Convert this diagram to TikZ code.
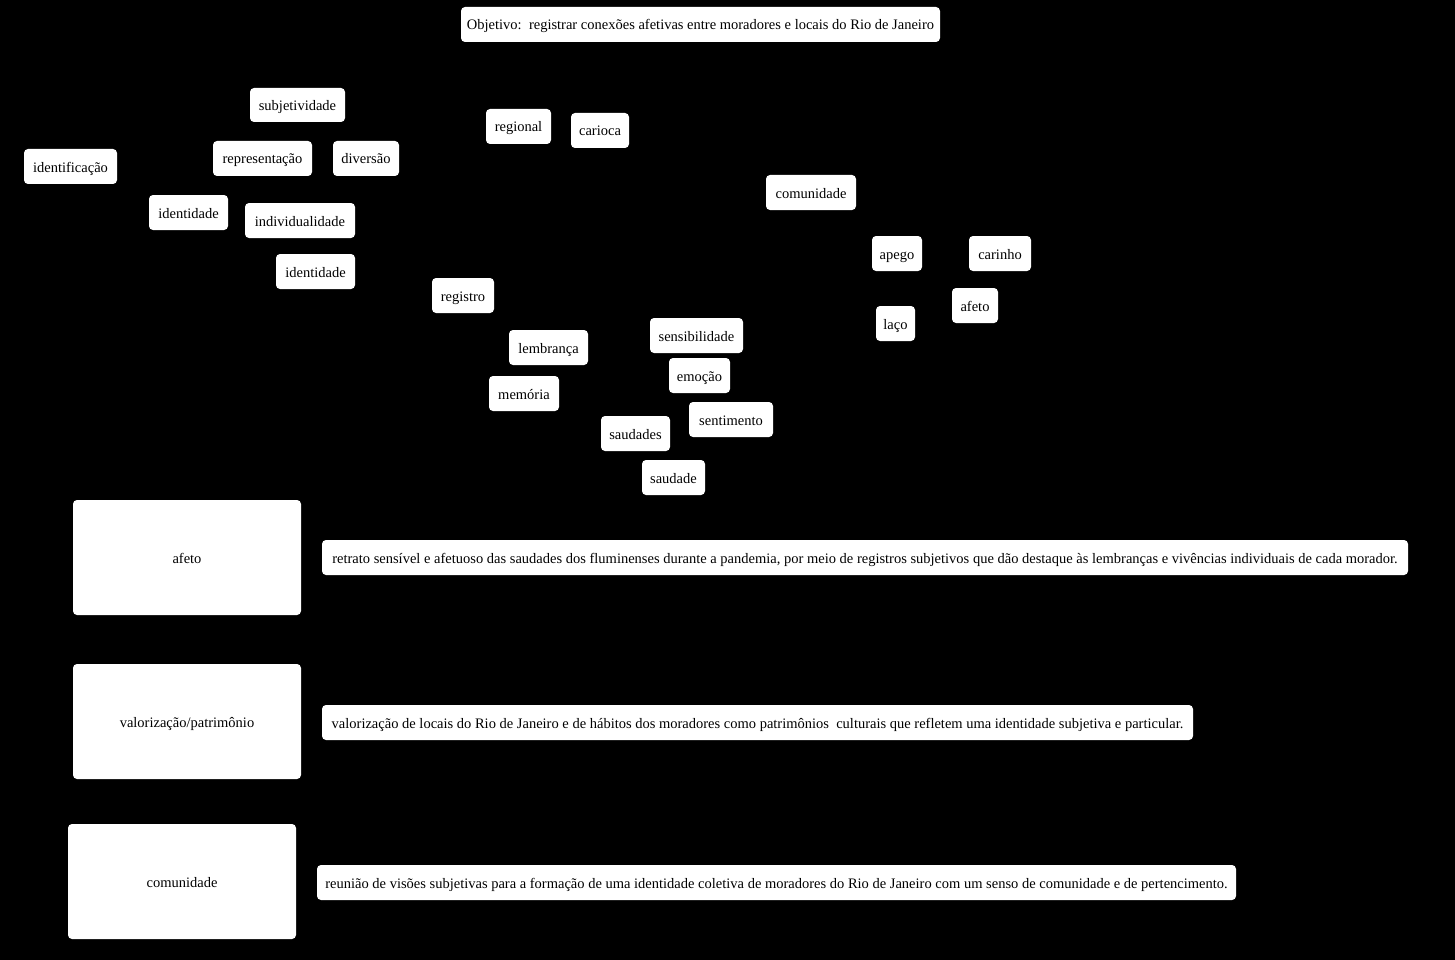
\documentclass[tikz,border=0pt]{standalone}
\usepackage{fontspec}
\setmainfont{Liberation Serif}
\begin{document}
\begin{tikzpicture}[x=1pt, y=-1pt,
  tag/.style={fill=white, rounded corners=4pt, inner sep=0pt, minimum height=35pt, text height=14pt, text depth=3pt, font=\fontsize{14.5}{16}\selectfont},
  big/.style={tag, minimum width=228pt, minimum height=115pt}]
\fill[black] (0,0) rectangle (1455,960);
\useasboundingbox (0,0) rectangle (1455,960);
\node[tag, minimum width=479pt](O) at (700.5,24.5){Objetivo:\ \ registrar conexões afetivas entre moradores e locais do Rio de Janeiro};
\node[tag, minimum width=95pt, minimum height=34pt](S) at (297.5,105){subjetividade};
\node[tag, minimum width=99pt](R) at (262.5,158.5){representação};
\node[tag, minimum width=66pt](D) at (366,158.5){diversão};
\node[tag, minimum width=93pt](I) at (70.5,166.5){identificação};
\node[tag, minimum width=79pt](I1) at (188.5,212.5){identidade};
\node[tag, minimum width=110pt](I2) at (300,220.5){individualidade};
\node[tag, minimum width=79pt](I3) at (315.5,271.5){identidade};
\node[tag, minimum width=65pt](G) at (518.5,126.5){regional};
\node[tag, minimum width=58pt](C) at (600,130.5){carioca};
\node[tag, minimum width=90pt](M) at (811,192.5){comunidade};
\node[tag, minimum width=50pt](A1) at (897,253.5){apego};
\node[tag, minimum width=62pt](A2) at (1000,253.5){carinho};
\node[tag, minimum width=46pt](A3) at (975,305.5){afeto};
\node[tag, minimum width=39pt](A4) at (895.5,323.5){laço};
\node[tag, minimum width=62pt](E) at (463,295.5){registro};
\node[tag, minimum width=79pt](E1) at (548.5,347.5){lembrança};
\node[tag, minimum width=70pt](E2) at (524,393.5){memória};
\node[tag, minimum width=93pt](F) at (696.5,335.5){sensibilidade};
\node[tag, minimum width=61pt](F1) at (699.5,375.5){emoção};
\node[tag, minimum width=84pt](F2) at (731,419.5){sentimento};
\node[tag, minimum width=69pt](F3) at (635.5,433.5){saudades};
\node[tag, minimum width=63pt](F4) at (673.5,477.5){saudade};
\node[big](B1) at (187,557.5){afeto};
\node[tag, minimum width=1086pt](T1) at (865,557.5){retrato sensível e afetuoso das saudades dos fluminenses durante a pandemia, por meio de registros subjetivos que dão destaque às lembranças e vivências individuais de cada morador.};
\node[big](B2) at (187,721.5){valorização/patrimônio};
\node[tag, minimum width=871pt](T2) at (757.5,722.5){valorização de locais do Rio de Janeiro e de hábitos dos moradores como patrimônios\ \ culturais que refletem uma identidade subjetiva e particular.};
\node[big](B3) at (182,881.5){comunidade};
\node[tag, minimum width=919pt](T3) at (776.5,882.5){reunião de visões subjetivas para a formação de uma identidade coletiva de moradores do Rio de Janeiro com um senso de comunidade e de pertencimento.};
\end{tikzpicture}
\end{document}
